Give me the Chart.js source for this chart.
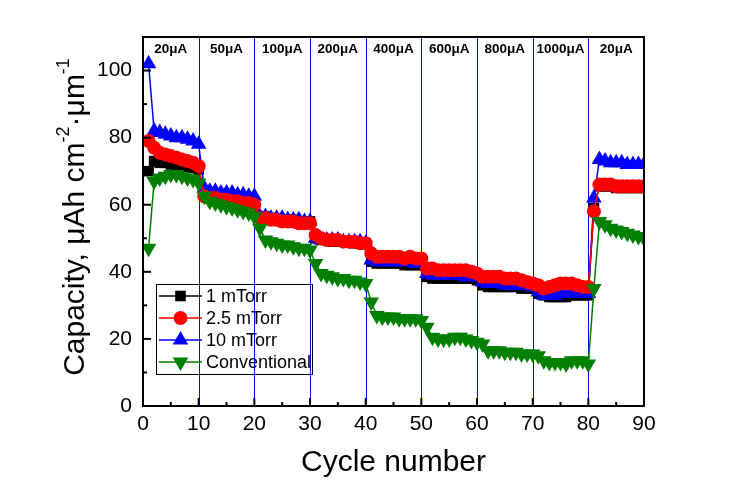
<!DOCTYPE html>
<html>
<head>
<meta charset="utf-8">
<script src="https://cdn.jsdelivr.net/npm/chart.js@4.4.0/dist/chart.umd.min.js"></script>
<style>
  html, body { margin: 0; padding: 0; background: #fff; }
  #wrap { width: 730px; height: 487px; }
</style>
</head>
<body>
<div id="wrap"><canvas id="rateChart" width="730" height="487"></canvas></div>
<script>
// cycle index (x axis)
const cycles = Array.from({ length: 90 }, (_, i) => i + 1);

// capacity values, 10 cycles per current step
const cap1mTorr = [
    70, 73, 72.5, 72.5, 72, 72, 71.5, 71, 71, 70.5,
    64, 63.5, 63, 62.5, 62, 62, 61.5, 61, 60.5, 60,
    56.5, 56.5, 56, 56, 55.5, 55.5, 55.5, 55, 55, 55,
    50, 49.5, 49.5, 49, 49, 49, 49, 48.5, 48.5, 48.5,
    43, 42.5, 42.5, 42.5, 42.5, 42.5, 42, 42, 42, 42,
    38.5, 38, 38, 38, 38, 38, 38, 38, 38, 37.5,
    36, 35.5, 35.5, 35.5, 35.5, 35.5, 35.5, 35, 35, 35,
    33.5, 33, 32.5, 32.5, 32.5, 32.5, 33, 33, 33, 33,
    59, 65.5, 65.5, 65.5, 65, 65, 65, 65, 65, 65
];
const cap2_5mTorr = [
    79, 77, 75.5, 75, 74.5, 74, 73.5, 73, 72.5, 71.5,
    62.5, 62, 62, 61.5, 61.5, 61, 61, 60.5, 60.5, 60,
    56, 56, 55.5, 55.5, 55, 55, 55, 54.5, 54.5, 54.5,
    51, 50, 49.5, 49.5, 49.5, 49, 49, 49, 48.5, 48.5,
    45.5, 44.5, 44.5, 44.5, 44.5, 44.5, 44, 44.5, 44, 44,
    41, 41, 40.5, 40.5, 40.5, 40.5, 40.5, 40.5, 40, 39.5,
    38.5, 38.5, 38.5, 38.5, 38, 38, 38, 37.5, 37, 36.5,
    36, 35, 35.5, 36, 36.5, 36.5, 36.5, 36, 35.5, 35.5,
    58, 66, 66, 66, 65.5, 65.5, 65.5, 65.5, 65.5, 65.5
];
const cap10mTorr = [
    102, 82, 81.5, 81, 80.5, 80, 80, 79.5, 79, 78,
    65, 64, 64, 63.5, 63.5, 63.5, 63, 63, 62.5, 62.5,
    56.5, 56.5, 56, 56, 56, 55.5, 55.5, 55.5, 55, 55,
    50, 49.5, 49.5, 49.5, 49.5, 49, 49, 49, 49, 48.5,
    43.5, 43, 43, 43, 43, 43, 43, 43, 42.5, 42.5,
    39.5, 39, 39, 39, 39, 39, 39, 38.5, 38.5, 38.5,
    37, 36.5, 36.5, 36.5, 36, 36, 36, 36, 36, 35.5,
    34, 33, 33, 33, 33.5, 33.5, 33.5, 33.5, 33.5, 33.5,
    62, 73.5, 73, 72.5, 72.5, 72.5, 72, 72, 72, 72
];
const capConventional = [
    47, 67, 68, 68.5, 69, 69, 68.5, 68, 67.5, 66.5,
    62.5, 61, 60.5, 60, 59.5, 59, 58.5, 58, 57.5, 56.5,
    53, 49.5, 49, 48.5, 48, 48, 47.5, 47, 47, 46.5,
    42.5, 39.5, 39, 38.5, 38, 38, 37.5, 37.5, 37, 36.5,
    31, 27, 26.5, 26.5, 26.5, 26, 26, 26, 26, 25.5,
    23.5, 20.5, 20, 20, 20, 20.5, 20.5, 20, 19.5, 19,
    18.5, 16.5, 16.5, 16.5, 16, 16, 16, 15.5, 15.5, 15.5,
    15, 13.5, 13, 13, 13, 12.5, 13.5, 13.5, 13.5, 12.5,
    35, 55, 54, 53, 52.5, 52, 51.5, 51, 50.5, 50
];

// current steps written across the top, and where each step ends
const rateLabels = ['20μA', '50μA', '100μA', '200μA', '400μA', '600μA', '800μA', '1000μA', '20μA'];
const rateEdges = [10, 20, 30, 40, 50, 60, 70, 80];

const xTickValues = [0, 10, 20, 30, 40, 50, 60, 70, 80, 90];
const yTickValues = [0, 20, 40, 60, 80, 100];

const FONT = '"Liberation Sans", Arial, sans-serif';

function toPoints(values) {
    return values.map((v, i) => ({ x: cycles[i], y: v }));
}

function makeSeries(label, values, color, style, rotation, radius, order) {
    return {
        label: label,
        data: toPoints(values),
        borderColor: color,
        backgroundColor: color,
        pointBackgroundColor: color,
        pointBorderColor: color,
        pointBorderWidth: 0,
        pointStyle: style,
        rotation: rotation,
        pointRotation: rotation,
        pointRadius: radius,
        borderWidth: 1.5,
        tension: 0,
        order: order,
        clip: 0
    };
}

const datasets = [
    makeSeries('1 mTorr', cap1mTorr, '#000000', 'rect', 0, 7.5, 4),
    makeSeries('2.5 mTorr', cap2_5mTorr, '#ff0000', 'circle', 0, 7, 2),
    makeSeries('10 mTorr', cap10mTorr, '#0000ff', 'triangle', 0, 9, 3),
    makeSeries('Conventional', capConventional, '#008000', 'triangle', 180, 9, 1)
];

// frame, inward ticks, step lines, step labels, legend and axis titles
const decorPlugin = {
    id: 'decor',
    beforeDatasetsDraw(chart) {
        const { ctx, chartArea: a, scales: { x } } = chart;
        ctx.save();
        ctx.strokeStyle = '#0000ff';
        ctx.lineWidth = 1;
        rateEdges.forEach(c => {
            const px = Math.round(x.getPixelForValue(c)) + 0.5;
            ctx.beginPath();
            ctx.moveTo(px, a.top);
            ctx.lineTo(px, a.bottom);
            ctx.stroke();
        });
        ctx.restore();
    },
    afterDatasetsDraw(chart) {
        const { ctx, chartArea: a, scales: { x, y } } = chart;
        ctx.save();
        ctx.strokeStyle = '#000';
        ctx.lineWidth = 2;
        ctx.strokeRect(a.left, a.top, a.right - a.left, a.bottom - a.top);

        for (let v = 0; v <= 90; v += 5) {
            const px = x.getPixelForValue(v);
            const len = v % 10 === 0 ? 8 : 4;
            ctx.beginPath();
            ctx.moveTo(px, a.bottom);
            ctx.lineTo(px, a.bottom - len);
            ctx.stroke();
        }
        for (let v = 0; v <= 100; v += 10) {
            const py = y.getPixelForValue(v);
            const len = v % 20 === 0 ? 8 : 4;
            ctx.beginPath();
            ctx.moveTo(a.left, py);
            ctx.lineTo(a.left + len, py);
            ctx.stroke();
        }

        ctx.fillStyle = '#000';
        ctx.font = 'bold 13.5px ' + FONT;
        ctx.textAlign = 'center';
        ctx.textBaseline = 'middle';
        rateLabels.forEach((t, i) => {
            const mid = i * 10 + 5;
            ctx.fillText(t, x.getPixelForValue(mid), a.top + 12);
        });
        ctx.restore();
    },
    afterDraw(chart) {
        const { ctx, chartArea: a } = chart;
        ctx.save();

        // legend box
        ctx.lineWidth = 1;
        ctx.strokeStyle = '#000';
        ctx.strokeRect(156.5, 284.5, 156, 90);
        ctx.font = '18px ' + FONT;
        ctx.textAlign = 'left';
        ctx.textBaseline = 'middle';
        chart.data.datasets.forEach((ds, i) => {
            const ry = 296 + i * 22;
            ctx.strokeStyle = ds.borderColor;
            ctx.fillStyle = ds.backgroundColor;
            ctx.lineWidth = 1.5;
            ctx.beginPath();
            ctx.moveTo(159, ry);
            ctx.lineTo(202, ry);
            ctx.stroke();
            Chart.helpers.drawPoint(ctx, {
                pointStyle: ds.pointStyle,
                radius: ds.pointRadius,
                rotation: ds.pointRotation,
                borderWidth: 0
            }, 180.5, ry);
            ctx.fillStyle = '#000';
            ctx.fillText(ds.label, 206, ry + 1);
        });

        // x title
        ctx.fillStyle = '#000';
        ctx.font = '30px ' + FONT;
        ctx.textAlign = 'center';
        ctx.textBaseline = 'alphabetic';
        ctx.fillText('Cycle number', (a.left + a.right) / 2, 471);

        // y title with superscripts
        const parts = [
            { t: 'Capacity, μAh cm', sup: false },
            { t: '-2', sup: true },
            { t: '·μm', sup: false },
            { t: '-1', sup: true }
        ];
        const mainFont = '30px ' + FONT;
        const supFont = '18px ' + FONT;
        let total = 0;
        parts.forEach(p => {
            ctx.font = p.sup ? supFont : mainFont;
            p.w = ctx.measureText(p.t).width;
            total += p.w;
        });
        ctx.translate(84, 217);
        ctx.rotate(-Math.PI / 2);
        ctx.textAlign = 'left';
        let cx = -total / 2;
        parts.forEach(p => {
            ctx.font = p.sup ? supFont : mainFont;
            ctx.fillText(p.t, cx, p.sup ? -15 : 0);
            cx += p.w;
        });
        ctx.restore();
    }
};

new Chart(document.getElementById('rateChart'), {
    type: 'line',
    data: { datasets: datasets },
    options: {
        responsive: false,
        devicePixelRatio: 1,
        animation: false,
        events: [],
        layout: { padding: { left: 0, top: 37, right: 86, bottom: 0 } },
        plugins: {
            legend: { display: false },
            tooltip: { enabled: false }
        },
        scales: {
            x: {
                type: 'linear',
                min: 0,
                max: 90,
                afterFit(scale) { scale.height = 81; },
                afterBuildTicks(scale) { scale.ticks = xTickValues.map(v => ({ value: v })); },
                grid: { display: false, drawTicks: false },
                border: { display: false },
                ticks: {
                    color: '#000',
                    padding: 6,
                    maxRotation: 0,
                    font: { family: FONT, size: 21 }
                }
            },
            y: {
                type: 'linear',
                min: 0,
                max: 110,
                afterFit(scale) { scale.width = 143; },
                afterBuildTicks(scale) { scale.ticks = yTickValues.map(v => ({ value: v })); },
                grid: { display: false, drawTicks: false },
                border: { display: false },
                ticks: {
                    color: '#000',
                    padding: 11,
                    font: { family: FONT, size: 21 }
                }
            }
        }
    },
    plugins: [decorPlugin]
});
</script>
</body>
</html>
